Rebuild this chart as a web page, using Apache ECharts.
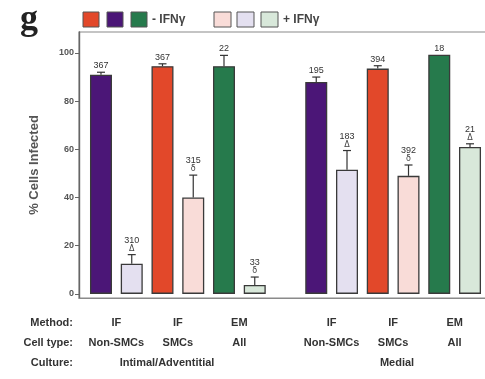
<!DOCTYPE html>
<html>
<head>
<meta charset="utf-8">
<script src="https://cdn.jsdelivr.net/npm/echarts@6/dist/echarts.min.js"></script>
<style>
  html, body { margin: 0; padding: 0; background: #fff; overflow: hidden; }
  #chart { width: 500px; height: 379px; }
</style>
</head>
<body>
<div id="chart"></div>
<script>
// bar slots (slot 6 is the gap between the two cultures)
var slots = [0, 1, 2, 3, 4, 5, 7, 8, 9, 10, 11, 12];
var values = [91, 12.5, 94.5, 40, 94.5, 3.7, 88, 51.5, 93.5, 49, 99.3, 61];
var errors = [1, 3.8, 1, 9.3, 4.5, 3.3, 2, 8, 1.2, 4.5, 0, 1.3];
var counts = ['367', '310', '367', '315', '22', '33', '195', '183', '394', '392', '18', '21'];
var marks = ['', 'Δ', '', 'δ', '', 'δ', '', 'Δ', '', 'δ', '', 'Δ'];
var colors = ['#4b1677', '#e4e0f0', '#e2482a', '#f9dcd8', '#267a4c', '#d8e8da',
              '#4b1677', '#e4e0f0', '#e2482a', '#f9dcd8', '#267a4c', '#d8e8da'];

var yTicks = [0, 20, 40, 60, 80, 100];
var groupCenters = [0.5, 2.5, 4.5, 7.5, 9.5, 11.5];
var methods = ['IF', 'IF', 'EM', 'IF', 'IF', 'EM'];
var cellTypes = ['Non-SMCs', 'SMCs', 'All', 'Non-SMCs', 'SMCs', 'All'];

var chart = echarts.init(document.getElementById('chart'));

var barData = [];
var errData = [];
for (var i = 0; i < slots.length; i++) {
  barData.push({ value: [slots[i], values[i]], itemStyle: { color: colors[i] } });
  errData.push([slots[i], values[i], errors[i], i]);
}

var txt = { fontFamily: 'Liberation Sans, Arial', fontWeight: 'bold', fill: '#333' };

var option = {
  animation: false,
  grid: {
    left: 79, top: 32, right: 10, bottom: 81,
    show: true, borderColor: '#8a8a8a', borderWidth: 1.2
  },
  xAxis: {
    type: 'value',
    min: -0.715,
    max: 12.65,
    splitLine: { show: false },
    axisTick: { show: false },
    axisLine: { show: true, onZero: false, lineStyle: { color: '#8a8a8a', width: 1.2 } },
    axisLabel: {
      customValues: groupCenters,
      margin: 15,
      formatter: function(v) {
        var k = groupCenters.indexOf(v);
        return '{a|' + methods[k] + '}\n{a|' + cellTypes[k] + '}';
      },
      rich: {
        a: { fontFamily: 'Liberation Sans, Arial', fontWeight: 'bold', fontSize: 11, color: '#333', lineHeight: 20 }
      }
    }
  },
  yAxis: {
    type: 'value',
    min: -1.7,
    max: 108.7,
    name: '% Cells Infected',
    nameLocation: 'middle',
    nameGap: 38,
    nameTextStyle: { fontFamily: 'Liberation Sans, Arial', fontWeight: 'bold', fontSize: 13, color: '#555' },
    splitLine: { show: false },
    axisLine: { show: true, onZero: false, lineStyle: { color: '#666', width: 1.4 } },
    axisTick: { customValues: yTicks, length: 4, lineStyle: { color: '#666' } },
    axisLabel: {
      customValues: yTicks,
      margin: 5,
      fontFamily: 'Liberation Sans, Arial',
      fontSize: 9,
      fontWeight: 'bold',
      color: '#555'
    }
  },
  series: [{
    type: 'bar',
    barWidth: 22,
    data: barData,
    itemStyle: { borderColor: '#3a3a3a', borderWidth: 1.3 }
  }, {
    type: 'custom',
    data: errData,
    z: 3,
    renderItem: function(params, api) {
      var x = api.value(0), v = api.value(1), e = api.value(2), k = api.value(3);
      var base = api.coord([x, v]);
      var top = api.coord([x, v + e]);
      var children = [];
      if (e > 0) {
        children.push({ type: 'line', shape: { x1: base[0], y1: base[1], x2: top[0], y2: top[1] },
          style: { stroke: '#333', lineWidth: 1.2 } });
        children.push({ type: 'line', shape: { x1: top[0] - 4, y1: top[1], x2: top[0] + 4, y2: top[1] },
          style: { stroke: '#333', lineWidth: 1.2 } });
      }
      var y = top[1] - 2;
      if (marks[k]) {
        children.push({ type: 'text', style: { text: marks[k], x: top[0], y: y, align: 'center', verticalAlign: 'bottom',
          fontFamily: 'DejaVu Sans', fontSize: 8, fill: '#444' } });
        y -= 8;
      }
      children.push({ type: 'text', style: { text: counts[k], x: top[0], y: y, align: 'center', verticalAlign: 'bottom',
        fontFamily: 'Liberation Sans, Arial', fontSize: 9, fill: '#333' } });
      return { type: 'group', children: children };
    }
  }],
  graphic: [
    { type: 'text', left: 20, top: 2, style: { text: 'g', fontFamily: 'Liberation Serif', fontWeight: 'bold', fontSize: 36, fill: '#222' } },
    { type: 'rect', shape: { x: 83, y: 12, width: 16, height: 15 }, style: { fill: '#e2482a', stroke: '#555', lineWidth: 1 } },
    { type: 'rect', shape: { x: 107, y: 12, width: 16, height: 15 }, style: { fill: '#4b1677', stroke: '#555', lineWidth: 1 } },
    { type: 'rect', shape: { x: 131, y: 12, width: 16, height: 15 }, style: { fill: '#267a4c', stroke: '#555', lineWidth: 1 } },
    { type: 'text', x: 152, y: 20, style: { text: '- IFNγ', verticalAlign: 'middle', fontFamily: 'Liberation Sans', fontWeight: 'bold', fontSize: 12, fill: '#444' } },
    { type: 'rect', shape: { x: 214, y: 12, width: 17, height: 15 }, style: { fill: '#f9dcd8', stroke: '#555', lineWidth: 1 } },
    { type: 'rect', shape: { x: 237, y: 12, width: 17, height: 15 }, style: { fill: '#e4e0f0', stroke: '#555', lineWidth: 1 } },
    { type: 'rect', shape: { x: 261, y: 12, width: 17, height: 15 }, style: { fill: '#d8e8da', stroke: '#555', lineWidth: 1 } },
    { type: 'text', x: 283, y: 20, style: { text: '+ IFNγ', verticalAlign: 'middle', fontFamily: 'Liberation Sans', fontWeight: 'bold', fontSize: 12, fill: '#444' } },
    { type: 'text', x: 73, y: 323, style: Object.assign({ text: 'Method:', align: 'right', verticalAlign: 'middle', fontSize: 11 }, txt) },
    { type: 'text', x: 73, y: 343, style: Object.assign({ text: 'Cell type:', align: 'right', verticalAlign: 'middle', fontSize: 11 }, txt) },
    { type: 'text', x: 73, y: 363, style: Object.assign({ text: 'Culture:', align: 'right', verticalAlign: 'middle', fontSize: 11 }, txt) },
    { type: 'text', x: 167, y: 363, style: Object.assign({ text: 'Intimal/Adventitial', align: 'center', verticalAlign: 'middle', fontSize: 11 }, txt) },
    { type: 'text', x: 397, y: 363, style: Object.assign({ text: 'Medial', align: 'center', verticalAlign: 'middle', fontSize: 11 }, txt) }
  ]
};

chart.setOption(option);
</script>
</body>
</html>
